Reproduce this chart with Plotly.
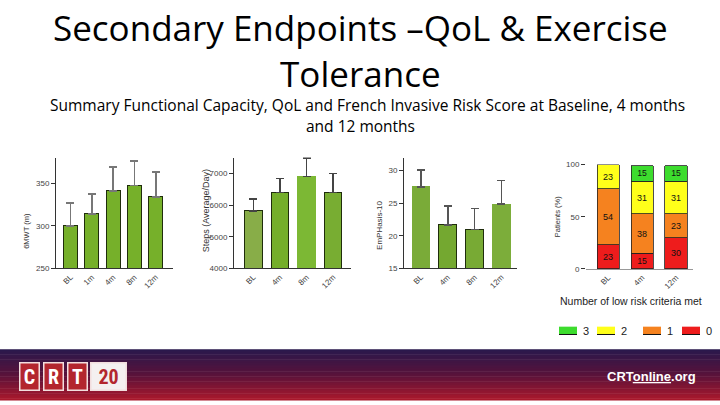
import plotly.graph_objects as go

# ---------------- data ----------------
smwt_cats = ["BL", "1m", "4m", "8m", "12m"]
smwt_mean = [300, 314, 341, 347, 334]
smwt_upper = [327, 337, 369, 376, 363]

steps_cats = ["BL", "4m", "8m", "12m"]
steps_mean = [5820, 6400, 6905, 6400]
steps_upper = [6190, 6840, 7490, 6995]

emph_cats = ["BL", "4m", "8m", "12m"]
emph_mean = [27.5, 21.7, 21.0, 24.85]
emph_upper = [30.1, 24.6, 24.2, 28.5]

risk_cats = ["BL", "4m", "12m"]
risk_names = ["0", "1", "2", "3"]
risk_0 = [23, 15, 30]
risk_1 = [54, 38, 23]
risk_2 = [23, 31, 31]
risk_3 = [0, 15, 15]
risk_values = [risk_0, risk_1, risk_2, risk_3]
risk_colors = ["#ee1c1c", "#f5821f", "#ffff1a", "#3ddc2e"]

W, H = 720, 405


def px(x):
    return x / W


def py(y):
    return 1 - y / H


fig = go.Figure()

TICKFONT = dict(family="Liberation Sans, Arial", size=8, color="#444")


def err_trace(cats, mean, upper, xa, ya, colors, lines, ecolor):
    fig.add_trace(go.Bar(
        x=cats, y=mean, xaxis=xa, yaxis=ya, width=0.66,
        marker=dict(color=colors, line=dict(color=lines, width=1)),
        error_y=dict(type="data", symmetric=False,
                     array=[u - m for u, m in zip(upper, mean)],
                     arrayminus=[0] * len(mean),
                     color=ecolor, thickness=1.6, width=4),
        showlegend=False, hoverinfo="skip"))


err_trace(smwt_cats, smwt_mean, smwt_upper, "x", "y",
          ["#76b02a"] * 5, ["#1f2d0c"] * 5, "#777")
err_trace(steps_cats, steps_mean, steps_upper, "x2", "y2",
          ["#88ad48", "#74ae2a", "#7cb834", "#78ad32"],
          ["#1f2d0c", "#1f2d0c", "#7cb834", "#1f2d0c"], "#444")
err_trace(emph_cats, emph_mean, emph_upper, "x3", "y3",
          ["#7aab38", "#74a830", "#78aa34", "#7cad3a"],
          ["#7aab38", "#1f2d0c", "#1f2d0c", "#7cad3a"], "#555")

for name, vals, col in zip(risk_names, risk_values, risk_colors):
    fig.add_trace(go.Bar(
        x=risk_cats, y=vals, xaxis="x4", yaxis="y4", width=0.65, name=name,
        marker=dict(color=col, line=dict(color="#222", width=0.8)),
        text=[str(v) if v else "" for v in vals], textposition="inside",
        insidetextanchor="middle",
        textfont=dict(family="Liberation Sans, Arial", size=9, color="#111"),
        showlegend=False, hoverinfo="skip"))

ydom = [py(270.5), py(157)]


def xax(dom, rng):
    return dict(domain=dom, range=rng, type="category", showline=True,
                linecolor="#333", linewidth=1, ticks="", showgrid=False,
                zeroline=False, tickangle=-45, tickfont=TICKFONT, fixedrange=True)


def yax(anchor, rng, vals, dom=ydom, line=True):
    return dict(domain=dom, range=rng, anchor=anchor, tickvals=vals,
                showline=line, linecolor="#333", linewidth=1, ticks="outside",
                ticklen=4, tickcolor="#333", showgrid=False, zeroline=False,
                tickfont=TICKFONT, fixedrange=True)


fig.update_layout(
    width=W, height=H, margin=dict(l=0, r=0, t=0, b=0),
    paper_bgcolor="white", plot_bgcolor="rgba(0,0,0,0)",
    barmode="stack", bargap=0.3,
    xaxis=dict(xax([px(56), px(173)], [-0.68, 4.81]), anchor="y"),
    yaxis=yax("x", [250, 380], [250, 300, 350]),
    xaxis2=dict(xax([px(234), px(351)], [-0.73, 3.67]), anchor="y2"),
    yaxis2=yax("x2", [4000, 7500], [4000, 5000, 6000, 7000]),
    xaxis3=dict(xax([px(404), px(517)], [-0.63, 3.58]), anchor="y3"),
    yaxis3=yax("x3", [15, 32], [15, 20, 25, 30]),
    xaxis4=dict(xax([px(586), px(693)], [-0.65, 2.5]), anchor="y4", linecolor="#999"),
    yaxis4=yax("x4", [0, 100], [0, 50, 100], dom=[py(271), py(164.3)], line=False),
)

ann = []
TF = "Open Sans, Liberation Sans, Arial"
ann.append(dict(text="Secondary Endpoints \u2013QoL &amp; Exercise<br>Tolerance", x=0.5, y=py(47.5),
                font=dict(family=TF, size=35, color="#000")))
ann.append(dict(text="Summary Functional Capacity, QoL and French Invasive Risk Score at Baseline, 4 months",
                x=px(367), y=py(103), font=dict(family=TF, size=15.5, color="#000")))
ann.append(dict(text="and 12 months", x=0.5, y=py(125),
                font=dict(family=TF, size=15.5, color="#000")))

for txt, x, y, s in [("6MWT (m)", 27, 232, 7.5), ("Steps (Average/Day)", 206, 212, 9),
                     ("EmPHasis-10", 380, 227, 8), ("Patients (%)", 557, 218, 7.5)]:
    ann.append(dict(text=txt, x=px(x), y=py(y), textangle=-90,
                    font=dict(family="Liberation Sans, Arial", size=s, color="#333")))
ann.append(dict(text="Number of low risk criteria met", x=px(631), y=py(304),
                font=dict(family="Liberation Sans, Arial", size=10.5, color="#222")))

shapes = []
# legend (custom)
leg_x = [559, 597, 643, 682]
for i, (name, col) in enumerate(reversed(list(zip(risk_names, risk_colors)))):
    x0 = leg_x[i]
    shapes.append(dict(type="rect", xref="paper", yref="paper", x0=px(x0), x1=px(x0 + 18),
                       y0=py(338), y1=py(330), fillcolor=col, line=dict(width=0)))
    shapes.append(dict(type="line", xref="paper", yref="paper", x0=px(x0), x1=px(x0 + 18),
                       y0=py(338), y1=py(338), line=dict(color="#111", width=1)))
    ann.append(dict(text=name, x=px(x0 + 27), y=py(334),
                    font=dict(family="Liberation Sans, Arial", size=11, color="#222")))

# footer gradient
def lerp(c1, c2, t):
    return "rgb(%d,%d,%d)" % tuple(round(a + (b - a) * t) for a, b in zip(c1, c2))

top, mid, bot = (42, 24, 76), (88, 18, 58), (168, 24, 44)
N = 30
y_top, y_bot = 353, 405
for k in range(N):
    t = k / (N - 1)
    c = lerp(top, mid, t * 2) if t < 0.5 else lerp(mid, bot, (t - 0.5) * 2)
    y0 = y_top + (y_bot - y_top) * k / N
    y1 = y_top + (y_bot - y_top) * (k + 1) / N
    shapes.append(dict(type="rect", xref="paper", yref="paper", x0=0, x1=1,
                       y0=py(y1 + 0.5), y1=py(y0), fillcolor=c, line=dict(width=0), layer="below"))

# CRT20 logo
LF = "Roboto Condensed, Roboto, Liberation Sans Narrow, Arial"
for ch, x0, x1 in [("C", 18, 40), ("R", 42, 64), ("T", 66, 88)]:
    ann.append(dict(text="<b>%s</b>" % ch, x=px((x0 + x1) / 2), y=py(381), width=x1 - x0 - 4,
                    height=26, bgcolor="#b3262e", bordercolor="#f2dede", borderwidth=1.5,
                    borderpad=0, font=dict(family=LF, size=20, color="white")))
ann.append(dict(text="<b>20</b>", x=px(109), y=py(381), width=34, height=26,
                bgcolor="#f4f0f0", bordercolor="#f2dede", borderwidth=1.5, borderpad=0,
                font=dict(family=LF, size=20, color="#b3262e")))
ann.append(dict(text="<b>CRT</b><b><u>online</u>.org</b>", x=px(651), y=py(381),
                font=dict(family="Liberation Sans, Arial", size=13, color="white")))

for a in ann:
    a.setdefault("xref", "paper")
    a.setdefault("yref", "paper")
    a.setdefault("showarrow", False)
    a.setdefault("xanchor", "center")
    a.setdefault("yanchor", "middle")

fig.update_layout(annotations=ann, shapes=shapes)
fig.write_html("out.html", config={"displayModeBar": False},
               post_script="document.body.style.margin='0';document.body.style.overflow='hidden';")
